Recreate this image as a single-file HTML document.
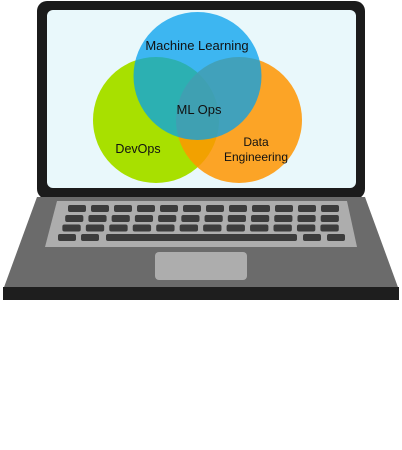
<!DOCTYPE html>
<html><head><style>html,body{margin:0;padding:0;background:#fff}svg{display:block}</style></head>
<body>
<svg width="402" height="450" viewBox="0 0 402 450" xmlns="http://www.w3.org/2000/svg">
<rect x="37" y="1" width="328" height="198" rx="10" fill="#1b1b1b"/>
<rect x="47" y="10" width="309" height="178" rx="6" fill="#e9f8fb"/>
<circle cx="156" cy="120" r="63" fill="#a8e000"/>
<circle cx="239" cy="120" r="63" fill="#ff9500" opacity="0.85"/>
<circle cx="197.5" cy="76" r="64" fill="#03a0ee" opacity="0.75"/>
<g font-family="Liberation Sans, sans-serif" fill="#111" text-anchor="middle">
<text x="197" y="50" font-size="13">Machine Learning</text>
<text x="199" y="114" font-size="13">ML Ops</text>
<text x="138" y="153" font-size="12.5">DevOps</text>
<text x="256" y="146" font-size="12">Data</text>
<text x="256" y="161" font-size="12">Engineering</text>
</g>
<polygon points="37,197 365,197 399,290 3,290" fill="#6b6b6b"/>
<rect x="3" y="287" width="396" height="13" fill="#1e1e1e"/>
<polygon points="57,201 347,201 357,247 45,247" fill="#adadad"/>
<rect x="155" y="252" width="92" height="28" rx="4" fill="#adadad"/>
<g fill="#3c3c3c">
<g id="r1"><rect x="68" y="205" width="18" height="7" rx="2"/><rect x="91" y="205" width="18" height="7" rx="2"/><rect x="114" y="205" width="18" height="7" rx="2"/><rect x="137" y="205" width="18" height="7" rx="2"/><rect x="160" y="205" width="18" height="7" rx="2"/><rect x="183" y="205" width="18" height="7" rx="2"/><rect x="206" y="205" width="18" height="7" rx="2"/><rect x="229" y="205" width="18" height="7" rx="2"/><rect x="252" y="205" width="18" height="7" rx="2"/><rect x="275" y="205" width="18" height="7" rx="2"/><rect x="298" y="205" width="18" height="7" rx="2"/><rect x="321" y="205" width="18" height="7" rx="2"/></g>
<use href="#r1" transform="translate(-3.5,10) scale(1.01,1)"/>
<use href="#r1" transform="translate(-7,19.5) scale(1.02,1)"/>
<rect x="58" y="234" width="18" height="7" rx="2"/><rect x="81" y="234" width="18" height="7" rx="2"/>
<rect x="106" y="234" width="191" height="7" rx="2"/>
<rect x="303" y="234" width="18" height="7" rx="2"/><rect x="327" y="234" width="18" height="7" rx="2"/>
</g>
</svg>
</body></html>
